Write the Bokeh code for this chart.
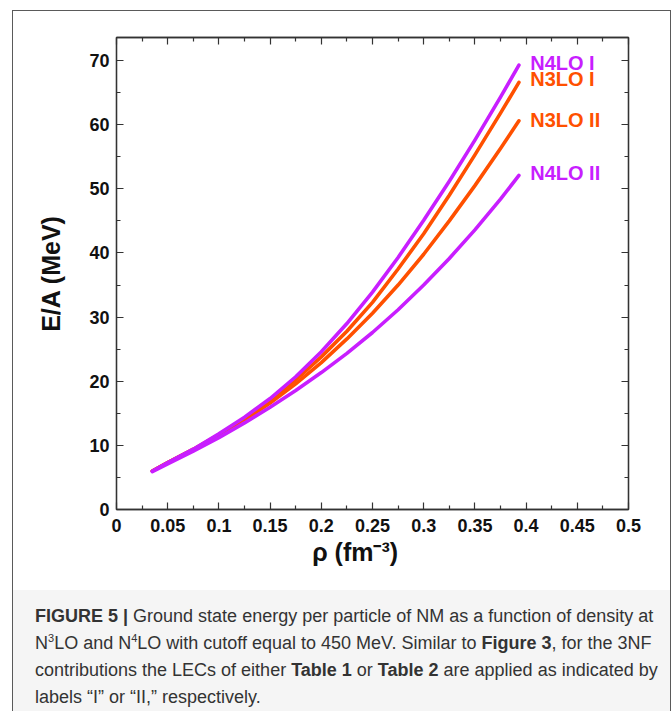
from bokeh.plotting import figure
from bokeh.models import Label, LinearAxis, FixedTicker, Div, CustomJSTickFormatter
from bokeh.layouts import column
from bokeh.embed import file_html
from bokeh.resources import INLINE

# ---- data ----
rho = [0.035, 0.05, 0.075, 0.10, 0.125, 0.15, 0.175, 0.20, 0.225, 0.25,
       0.275, 0.30, 0.325, 0.35, 0.375, 0.393]
n4lo_I = [6.0, 7.3, 9.4, 11.8, 14.4, 17.3, 20.7, 24.6, 29.0, 33.9,
          39.3, 45.1, 51.2, 57.6, 64.3, 69.3]
n3lo_I = [6.0, 7.3, 9.4, 11.7, 14.2, 17.0, 20.2, 23.8, 27.8, 32.3,
          37.5, 43.0, 49.0, 55.3, 61.8, 66.6]
n3lo_II = [6.0, 7.3, 9.3, 11.5, 13.9, 16.6, 19.6, 22.9, 26.6, 30.6,
           35.0, 39.8, 45.0, 50.5, 56.3, 60.6]
n4lo_II = [5.9, 7.1, 9.1, 11.2, 13.5, 15.95, 18.55, 21.35, 24.35, 27.6,
           31.15, 35.0, 39.15, 43.6, 48.4, 52.1]

x_ticks = [0, 0.05, 0.1, 0.15, 0.2, 0.25, 0.3, 0.35, 0.4, 0.45, 0.5]
x_tick_labels = ["0", "0.05", "0.1", "0.15", "0.2", "0.25", "0.3", "0.35", "0.4", "0.45", "0.5"]
x_minor = [0.025, 0.075, 0.125, 0.175, 0.225, 0.275, 0.325, 0.375, 0.425, 0.475]
y_ticks = [0, 10, 20, 30, 40, 50, 60, 70]
y_minor = [5, 15, 25, 35, 45, 55, 65]

series_names = ["N3LO I", "N3LO II", "N4LO I", "N4LO II"]
series_vals = [n3lo_I, n3lo_II, n4lo_I, n4lo_II]
series_label_y = [67.1, 60.8, 69.7, 52.5]

PURPLE = "#c81eff"
ORANGE = "#ff5000"
series_colors = [ORANGE, ORANGE, PURPLE, PURPLE]

BORDER = "#5a5a5a"
W, H = 657, 579
p = figure(width=W, height=H, x_range=(0, 0.5), y_range=(0, 73.6),
           output_backend="svg", toolbar_location=None,
           min_border_left=103, min_border_right=42,
           min_border_top=26, min_border_bottom=81)
p.grid.visible = False
p.outline_line_color = "#333333"
p.outline_line_width = 1.3
p.background_fill_color = "white"
p.border_fill_color = "white"

FONT = "Liberation Sans"

def style_axis(ax, labels=True):
    ax.axis_line_color = "#333333"
    ax.axis_line_width = 1.3
    ax.major_tick_line_color = "#333333"
    ax.minor_tick_line_color = "#333333"
    ax.major_tick_line_width = 1.2
    ax.minor_tick_line_width = 1.2
    ax.major_tick_in = 7
    ax.major_tick_out = 0
    ax.minor_tick_in = 4
    ax.minor_tick_out = 0
    ax.major_label_text_font = FONT
    ax.major_label_text_font_style = "bold"
    ax.major_label_text_font_size = "18px"
    ax.major_label_text_color = "#111111"
    if not labels:
        ax.formatter = CustomJSTickFormatter(code="return ''")
        ax.major_label_text_font_size = "1px"

xa = p.xaxis[0]
xa.ticker = FixedTicker(ticks=x_ticks, minor_ticks=x_minor)
xa.major_label_overrides = {t: l for t, l in zip(x_ticks, x_tick_labels)}
xa.major_label_standoff = 9
style_axis(xa)
xa.axis_label = "ρ (fm\u207b\u00b3)\u00a0\u00a0\u00a0\u00a0\u00a0"
xa.axis_label_text_font = FONT
xa.axis_label_text_font_style = "bold"
xa.axis_label_text_font_size = "25px"
xa.axis_label_text_color = "#111111"
xa.axis_label_standoff = 3

ya = p.yaxis[0]
ya.ticker = FixedTicker(ticks=y_ticks, minor_ticks=y_minor)
ya.major_label_standoff = 7
style_axis(ya)
ya.axis_label = "E/A (MeV)"
ya.axis_label_text_font = FONT
ya.axis_label_text_font_style = "bold"
ya.axis_label_text_font_size = "25px"
ya.axis_label_text_color = "#111111"
ya.axis_label_standoff = 21

ra = LinearAxis(ticker=FixedTicker(ticks=y_ticks, minor_ticks=y_minor))
style_axis(ra, labels=False)
p.add_layout(ra, "right")
ta = LinearAxis(ticker=FixedTicker(ticks=x_ticks, minor_ticks=x_minor))
style_axis(ta, labels=False)
p.add_layout(ta, "above")

# curves: orange first, purple on top
for name, vals, col in zip(series_names, series_vals, series_colors):
    p.line(rho, vals, line_color=col, line_width=3.6, line_cap="round", line_join="round")

for name, ly, col in zip(series_names, series_label_y, series_colors):
    p.add_layout(Label(x=0.404, y=ly, text=name, text_font=FONT, text_font_style="bold",
                       text_font_size="20px", text_color=col, text_baseline="middle",
                       text_align="left"))

CAP_H = 121
caption_html = (
    f'<div style="width:{W}px;height:{CAP_H}px;box-sizing:border-box;background:#f5f5f5;'
    'padding:13px 0 0 22px;font-family:\'Liberation Sans\',sans-serif;font-size:18px;'
    'line-height:27px;color:#333;white-space:nowrap;">'
    '<b>FIGURE 5 |</b> Ground state energy per particle of NM as a function of density at<br>'
    'N<sup style="font-size:11px;line-height:0">3</sup>LO and N<sup style="font-size:11px;line-height:0">4</sup>LO '
    'with cutoff equal to 450 MeV. Similar to <b>Figure 3</b>, for the 3NF<br>'
    'contributions the LECs of either <b>Table 1</b> or <b>Table 2</b> are applied as indicated by<br>'
    'labels \u201cI\u201d or \u201cII,\u201d respectively.'
    '</div>'
)
cap = Div(text=caption_html, width=W, height=CAP_H, margin=0)

layout = column(p, cap, spacing=0, margin=(11, 0, 0, 13),
                styles={"outline": f"1.5px solid {BORDER}"})
open("out.html", "w").write(file_html(layout, INLINE))
